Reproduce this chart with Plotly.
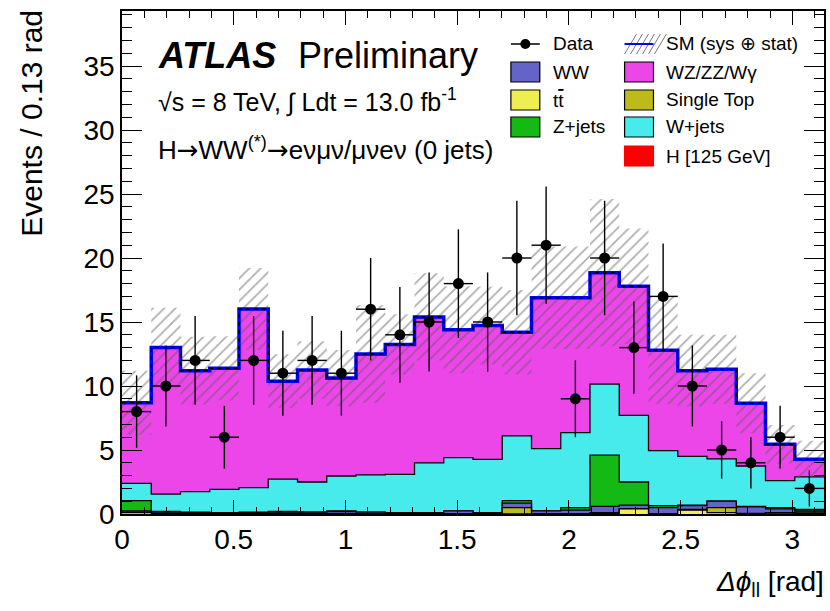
import numpy as np
import plotly.graph_objects as go

# Binning: 24 bins of pi/24 over [0, pi]
n_bins = 24
edges = np.linspace(0.0, np.pi, n_bins + 1)
centers = 0.5 * (edges[:-1] + edges[1:])
bin_w = edges[1] - edges[0]

# Observed events per bin
data = [8, 10, 12, 6, 12, 11, 12, 11, 16, 14, 15, 18,
        15, 20, 21, 9, 20, 13, 17, 10, 5, 4, 6, 2]

# Expected backgrounds per bin
ttbar = [0.1, 0, 0, 0, 0, 0, 0, 0, 0, 0, 0, 0,
         0, 0, 0, 0, 0.05, 0.4, 0, 0.3, 0.1, 0, 0, 0.05]
single_top = [0.05, 0.05, 0, 0.05, 0, 0.05, 0.05, 0.05, 0, 0, 0, 0,
              0, 0.5, 0, 0, 0.05, 0, 0, 0.05, 0.4, 0.05, 0.1, 0.1]
ww = [0.1, 0.1, 0.1, 0.05, 0.1, 0.1, 0.1, 0.15, 0.15, 0.1, 0.1, 0.25,
      0.1, 0.35, 0.25, 0.3, 0.5, 0.3, 0.5, 0.3, 0.5, 0.5, 0.3, 0.1]
zjets = [0.8, 0.05, 0.05, 0, 0.05, 0.05, 0, 0.05, 0, 0, 0, 0,
         0, 0.2, 0, 0.2, 4.0, 1.8, 0.15, 0.05, 0, 0.05, 0.1, 0.1]
wjets = [1.35, 1.36, 1.6, 1.83, 1.91, 2.53, 2.35, 2.72, 2.9, 3.0, 3.9, 4.15,
         4.17, 5.05, 4.85, 5.85, 5.55, 5.2, 4.3, 3.8, 3.3, 3.15, 2.1, 2.55]
wz_zz_wg = [6.25, 11.4, 9.4, 9.4, 13.9, 7.6, 8.7, 7.6, 9.4, 10.1, 11.35, 9.95,
            10.4, 8.05, 11.75, 10.5, 8.65, 10.05, 7.8, 6.65, 6.95, 4.85, 2.8, 1.32]
higgs = [0.05] * n_bins

# Total SM uncertainty (sys + stat) per bin
sm_err = [2.5, 3.1, 2.65, 2.5, 3.2, 2.1, 2.25, 2.2, 3.8, 2.35, 3.4, 3.4,
          3.05, 3.3, 4.0, 4.0, 5.75, 4.5, 4.2, 2.8, 2.7, 2.35, 1.5, 1.45]

# Stack from bottom to top
stack = [
    ("tt", ttbar, "#eeee50"),
    ("Single Top", single_top, "#bbbb1a"),
    ("WW", ww, "#6464c8"),
    ("Z+jets", zjets, "#14b914"),
    ("W+jets", wjets, "#48ebeb"),
    ("WZ/ZZ/Wg", wz_zz_wg, "#ec45e8"),
    ("H", higgs, "#ff0000"),
]
cum = np.cumsum([np.array(v, dtype=float) for _, v, _ in stack], axis=0)
total = cum[-1]
err = np.array(sm_err)


def steps(vals):
    vals = np.asarray(vals, dtype=float)
    return np.append(vals, vals[-1])


fig = go.Figure()

# Filled stack, top layer first so lower layers paint over it
for i in range(len(stack) - 1, -1, -1):
    name, _, col = stack[i]
    fig.add_trace(go.Scatter(
        x=edges, y=steps(cum[i]), mode="lines", line_shape="hv",
        fill="tozeroy", fillcolor=col,
        line=dict(color="red" if name == "H" else "black", width=1.3),
        hoverinfo="skip", showlegend=False))

# Hatched uncertainty band
fig.add_trace(go.Scatter(
    x=edges, y=steps(total - err), mode="lines", line_shape="hv",
    line=dict(width=0, color="rgba(0,0,0,0)"), hoverinfo="skip", showlegend=False))
fig.add_trace(go.Scatter(
    x=edges, y=steps(total + err), mode="lines", line_shape="hv",
    line=dict(width=0, color="rgba(0,0,0,0)"),
    fill="tonexty", fillcolor="rgba(0,0,0,0)",
    fillpattern=dict(shape="/", fgcolor="#5e5e5e", bgcolor="rgba(0,0,0,0)",
                     size=8, solidity=0.22, fillmode="overlay"),
    hoverinfo="skip", showlegend=False))

# SM total outline: blue with black dashes
fig.add_trace(go.Scatter(
    x=edges, y=steps(total), mode="lines", line_shape="hv",
    line=dict(color="#0000ff", width=3.5), hoverinfo="skip", showlegend=False))
fig.add_trace(go.Scatter(
    x=edges, y=steps(total), mode="lines", line_shape="hv",
    line=dict(color="black", width=1.4, dash="4px,4px"),
    hoverinfo="skip", showlegend=False))

# Data with Poisson errors
fig.add_trace(go.Scatter(
    x=centers, y=data, mode="markers",
    marker=dict(color="black", size=11),
    error_y=dict(type="data", array=np.sqrt(data), color="black", thickness=1.4, width=0),
    error_x=dict(type="constant", value=bin_w / 2, color="black", thickness=1.4, width=0),
    showlegend=False))

FONT = "Liberation Sans, Arial, Helvetica, sans-serif"
ARROW = "<span style='font-family:DejaVu Sans'>→</span>"

# Frame geometry in pixels for placing decorations
L, R, T, B = 122, 826, 11, 514


def px(x):
    return (x - L) / (R - L)


def py(y):
    return (B - y) / (B - T)


ann = []
shapes = []


def text(x, y, s, size, xanchor="left", yanchor="middle", angle=0):
    ann.append(dict(x=px(x), y=py(y), xref="paper", yref="paper", text=s,
                    showarrow=False, xanchor=xanchor, yanchor=yanchor,
                    textangle=angle, font=dict(family=FONT, size=size, color="black")))


text(156, 55, "<b><i>ATLAS</i></b>", 36)
text(296, 55, "Preliminary", 36)
text(156, 101, "√s = 8 TeV, ∫ Ldt = 13.0 fb<sup>-1</sup>", 25)
text(156, 148, "H" + ARROW + "WW<sup>(*)</sup>" + ARROW + "eνμν/μνeν (0 jets)", 26)

# Axis titles
text(31, 8, "Events / 0.13 rad", 30, xanchor="center", yanchor="top", angle=-90)
text(828, 583, "<i>Δϕ</i><sub>ll</sub> [rad]", 28, xanchor="right")

# Legend, column 1
leg_size = 19
shapes.append(dict(type="line", xref="paper", yref="paper",
                   x0=px(512), x1=px(541), y0=py(44), y1=py(44),
                   line=dict(color="black", width=1.5)))
shapes.append(dict(type="circle", xref="paper", yref="paper",
                   xsizemode="pixel", ysizemode="pixel",
                   xanchor=px(526.5), yanchor=py(44), x0=-5, x1=5, y0=-5, y1=5,
                   fillcolor="black", line=dict(color="black", width=0)))
text(552, 44, "Data", leg_size)


def box(x, y, col, border="black"):
    shapes.append(dict(type="rect", xref="paper", yref="paper",
                       x0=px(x), x1=px(x + 29), y0=py(y + 10), y1=py(y - 10),
                       fillcolor=col, line=dict(color=border, width=1.2)))


box(512, 72, "#6464c8")
text(552, 72, "WW", leg_size)
box(512, 100, "#eeee50")
text(552, 101, "t<span style='text-decoration:overline'>t</span>", leg_size)
box(512, 127, "#14b914")
text(552, 127, "Z+jets", leg_size)

# Legend, column 2
for k in range(6):
    x0 = 626 + k * 6
    shapes.append(dict(type="line", xref="paper", yref="paper",
                       x0=px(x0), x1=px(x0 + 12), y0=py(54), y1=py(34),
                       line=dict(color="#7a7a7a", width=1)))
shapes.append(dict(type="line", xref="paper", yref="paper",
                   x0=px(626), x1=px(655), y0=py(44), y1=py(44),
                   line=dict(color="#0000ff", width=2)))
text(666, 44, "SM (sys ⊕ stat)", leg_size)
box(626, 72, "#ec45e8")
text(666, 72, "WZ/ZZ/Wγ", leg_size)
box(626, 100, "#bbbb1a")
text(666, 99, "Single Top", leg_size)
box(626, 127, "#48ebeb")
text(666, 127, "W+jets", leg_size)
box(626, 156, "#ff0000", border="#ff0000")
text(666, 156, "H [125 GeV]", leg_size)

axis_common = dict(showline=True, linecolor="black", linewidth=1.5, mirror="allticks",
                   ticks="inside", tickcolor="black", tickwidth=1.2,
                   showgrid=False, zeroline=False,
                   tickfont=dict(family=FONT, size=28, color="black"))

fig.update_layout(
    width=830, height=611,
    margin=dict(l=L, r=830 - R, t=T, b=611 - B),
    paper_bgcolor="white", plot_bgcolor="white",
    showlegend=False,
    annotations=ann, shapes=shapes,
    xaxis=dict(range=[0, np.pi], tickvals=[0, 0.5, 1, 1.5, 2, 2.5, 3],
               ticktext=["0", "0.5", "1", "1.5", "2", "2.5", "3"],
               ticklen=14,
               minor=dict(dtick=0.1, ticks="inside", ticklen=7, tickcolor="black",
                          tickwidth=1.2, showgrid=False),
               **axis_common),
    yaxis=dict(range=[0, (B - T) / 12.8], dtick=5, ticklen=20,
               minor=dict(dtick=1, ticks="inside", ticklen=10, tickcolor="black",
                          tickwidth=1.2, showgrid=False),
               **axis_common),
)

fig.write_html("out.html")
